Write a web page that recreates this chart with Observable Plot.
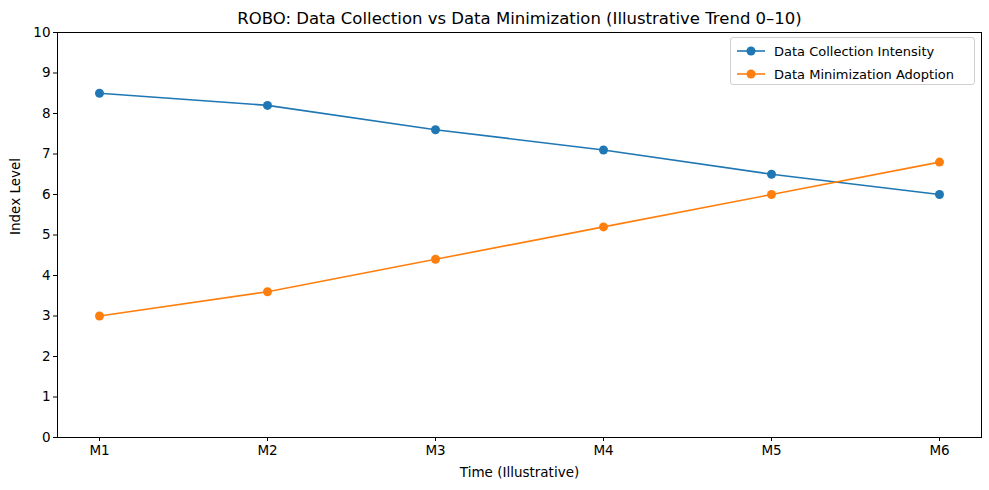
<!DOCTYPE html>
<html>
<head>
<meta charset="utf-8">
<script src="https://cdn.jsdelivr.net/npm/d3@7"></script>
<script src="https://cdn.jsdelivr.net/npm/@observablehq/plot@0.6"></script>
<style>
  body { margin: 0; background: #fff; font-family: "DejaVu Sans", sans-serif; }
  #wrap { position: relative; width: 989px; height: 490px; }
  #legend { position: absolute; left: 730px; top: 37px; width: 243px; height: 46px;
    border: 1px solid #d0d0d0; border-radius: 3px; background: rgba(255,255,255,0.8);
    font-size: 13px; color: #000; }
  .row { position: absolute; left: 6px; height: 20px; display: flex; align-items: center; }
  .row svg { margin-right: 9px; }
</style>
</head>
<body>
<div id="wrap"></div>
<script>
const periods = ["M1", "M2", "M3", "M4", "M5", "M6"];
const seriesNames = ["Data Collection Intensity", "Data Minimization Adoption"];
const collection = [8.5, 8.2, 7.6, 7.1, 6.5, 6.0];
const minimization = [3.0, 3.6, 4.4, 5.2, 6.0, 6.8];
const colors = ["#1f77b4", "#ff7f0e"];
const yTicks = [0, 1, 2, 3, 4, 5, 6, 7, 8, 9, 10];

const data = [];
periods.forEach((p, i) => {
  data.push({period: p, value: collection[i], series: seriesNames[0]});
  data.push({period: p, value: minimization[i], series: seriesNames[1]});
});

const chart = Plot.plot({
  width: 989,
  height: 490,
  marginLeft: 57,
  marginRight: 8,
  marginTop: 32,
  marginBottom: 53,
  style: {fontFamily: "DejaVu Sans, sans-serif", fontSize: "13.5px", color: "#000", background: "#fff"},
  x: {type: "point", domain: periods, padding: 0.25, label: null},
  y: {domain: [0, 10], ticks: yTicks, label: null},
  color: {domain: seriesNames, range: colors},
  marks: [
    Plot.frame({stroke: "#000", strokeWidth: 1}),
    Plot.axisX({ticks: periods, tickSize: 4, tickPadding: 4, fontSize: 13.5, label: null}),
    Plot.axisY({ticks: yTicks, tickSize: 4, tickPadding: 3, fontSize: 13.5, label: null}),
    Plot.line(data, {x: "period", y: "value", z: "series", stroke: "series", strokeWidth: 1.6}),
    Plot.dot(data, {x: "period", y: "value", fill: "series", r: 4.5, stroke: null}),
    Plot.text(["ROBO: Data Collection vs Data Minimization (Illustrative Trend 0–10)"], {
      frameAnchor: "top", lineAnchor: "middle", dy: -14, fontSize: 16.5, text: d => d}),
    Plot.text(["Time (Illustrative)"], {frameAnchor: "bottom", lineAnchor: "middle", dy: 35, fontSize: 13.5, text: d => d}),
    Plot.text(["Index Level"], {frameAnchor: "left", dx: -42, rotate: -90, fontSize: 13.5, text: d => d})
  ]
});

const wrap = document.getElementById("wrap");
wrap.appendChild(chart);

const legend = document.createElement("div");
legend.id = "legend";
seriesNames.forEach((name, i) => {
  const row = document.createElement("div");
  row.className = "row";
  row.style.top = (3 + i * 23) + "px";
  row.innerHTML = `<svg width="28" height="12"><line x1="0" y1="6" x2="28" y2="6" stroke="${colors[i]}" stroke-width="1.6"/><circle cx="14" cy="6" r="4.5" fill="${colors[i]}"/></svg><span>${name}</span>`;
  legend.appendChild(row);
});
wrap.appendChild(legend);
</script>
</body>
</html>
